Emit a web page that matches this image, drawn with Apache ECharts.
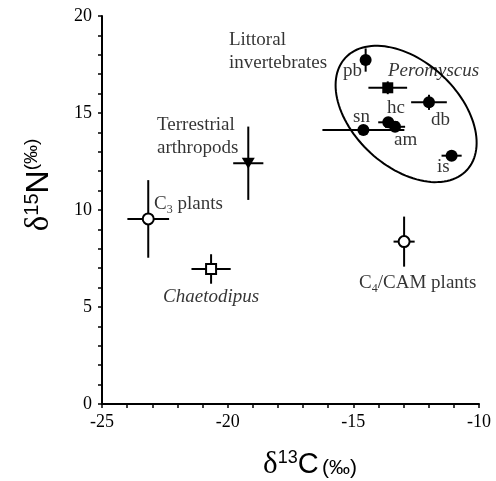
<!DOCTYPE html>
<html>
<head>
<meta charset="utf-8">
<script src="https://cdn.jsdelivr.net/npm/echarts@6/dist/echarts.min.js"></script>
<style>
html,body{margin:0;padding:0;background:#fff;}
#chart{width:496px;height:481px;}
</style>
</head>
<body>
<div id="chart"></div>
<script>
// ---- data ----
const groups = ['pb', 'Peromyscus', 'hc', 'am', 'sn', 'db', 'is', 'Terrestrial arthropods', 'C3 plants', 'Chaetodipus', 'C4/CAM plants'];
const d13C   = [-14.51, -13.63, -13.61, -13.34, -14.60, -11.99, -11.09, -19.18, -23.16, -20.66, -12.98];
const d15N   = [17.73, 16.30, 14.52, 14.29, 14.12, 15.55, 12.80, 12.41, 9.54, 6.96, 8.37];
const errC   = [0.15, 0.77, 0.40, 0.40, 1.63, 0.71, 0.40, 0.60, 0.83, 0.78, 0.42];
const errN   = [0.60, 0.33, 0.20, 0.15, 0.10, 0.39, 0.10, 1.89, 2.00, 0.76, 1.29];

const xTicks = [-25, -20, -15, -10];
const yTicks = [0, 5, 10, 15, 20];

// annotation texts and their anchors (data coordinates: left edge, vertical middle)
const noteTexts = ['Littoral\ninvertebrates', 'Peromyscus', 'pb', 'sn', 'hc', 'am', 'db', 'is',
                   'Terrestrial\narthropods', 'C{s|3} plants', 'Chaetodipus', 'C{s|4}/CAM plants'];
const noteX = [-19.95, -13.62, -15.41, -15.01, -13.66, -13.38, -11.91, -11.67, -22.81, -22.93, -22.57, -14.77];
const noteY = [18.15, 17.16, 17.16, 14.79, 15.26, 13.61, 14.64, 12.22, 13.79, 10.31, 5.52, 6.24];

// ellipse around littoral group (data units)
const ellipseCenter = [-12.90, 14.95];
const ellipseAxisA = [2.42, -2.89];
const ellipseAxisB = [-1.42, -2.00];

// ---- styles ----
const markerStyle = {
  'pb': 'fc', 'Peromyscus': 'fs', 'hc': 'fc', 'am': 'fc', 'sn': 'fc', 'db': 'fc', 'is': 'fc',
  'Terrestrial arthropods': 'ft', 'C3 plants': 'oc', 'Chaetodipus': 'os', 'C4/CAM plants': 'oc'
};
const italicNotes = ['Peromyscus', 'Chaetodipus'];

function markerItem(i) {
  const t = markerStyle[groups[i]];
  const item = { value: [d13C[i], d15N[i]] };
  if (t === 'fc') { item.symbol = 'circle'; item.symbolSize = 12; item.itemStyle = { color: '#000', opacity: 1 }; }
  if (t === 'fs') { item.symbol = 'rect'; item.symbolSize = 11; item.itemStyle = { color: '#000', opacity: 1 }; }
  if (t === 'ft') { item.symbol = 'triangle'; item.symbolSize = [13, 11]; item.symbolRotate = 180; item.itemStyle = { color: '#000', opacity: 1 }; }
  if (t === 'oc') { item.symbol = 'circle'; item.symbolSize = 11; item.itemStyle = { color: '#fff', borderColor: '#000', borderWidth: 2, opacity: 1 }; }
  if (t === 'os') { item.symbol = 'rect'; item.symbolSize = 10; item.itemStyle = { color: '#fff', borderColor: '#000', borderWidth: 2, opacity: 1 }; }
  return item;
}

const serif = 'Liberation Serif, Times New Roman, serif';
const sans = 'Liberation Sans, Arial, sans-serif';

const chart = echarts.init(document.getElementById('chart'), null, { renderer: 'canvas' });

const option = {
  backgroundColor: '#fff',
  animation: false,
  grid: { left: 102, right: 17, top: 16, bottom: 77 },
  xAxis: {
    type: 'value', min: xTicks[0], max: xTicks[xTicks.length - 1], interval: 5,
    axisLine: { show: true, lineStyle: { color: '#000', width: 2 } },
    axisTick: { show: true, length: 4, lineStyle: { color: '#000', width: 1.5 } },
    minorTick: { show: true, splitNumber: 5, length: 4, lineStyle: { color: '#000', width: 1.5 } },
    splitLine: { show: false },
    axisLabel: { color: '#000', fontFamily: serif, fontSize: 18, margin: 9 }
  },
  yAxis: {
    type: 'value', min: yTicks[0], max: yTicks[yTicks.length - 1], interval: 5,
    axisLine: { show: true, lineStyle: { color: '#000', width: 2 } },
    axisTick: { show: true, length: 4, lineStyle: { color: '#000', width: 1.5 } },
    minorTick: { show: true, splitNumber: 5, length: 4, lineStyle: { color: '#000', width: 1.5 } },
    splitLine: { show: false },
    axisLabel: { color: '#000', fontFamily: serif, fontSize: 18, margin: 10 }
  },
  graphic: [
    {
      type: 'text', x: 310, y: 465,
      style: {
        text: '{d|δ}{sup|13}{b|C} {p|(‰)}',
        align: 'center', verticalAlign: 'middle', fill: '#000',
        rich: {
          d: { fontFamily: serif, fontSize: 31, fill: '#000' },
          sup: { fontFamily: sans, fontSize: 18, verticalAlign: 'top', fill: '#000' },
          b: { fontFamily: sans, fontSize: 29, fill: '#000' },
          p: { fontFamily: sans, fontSize: 21, fill: '#000', padding: [6, 0, 0, 0] }
        }
      }
    },
    {
      type: 'text', x: 39, y: 185, rotation: Math.PI / 2,
      style: {
        text: '{d|δ}{sup|15}{b|N}{p|(‰)}',
        align: 'center', verticalAlign: 'middle', fill: '#000',
        rich: {
          d: { fontFamily: serif, fontSize: 33, fill: '#000' },
          sup: { fontFamily: sans, fontSize: 20, verticalAlign: 'top', fill: '#000' },
          b: { fontFamily: sans, fontSize: 32, fill: '#000' },
          p: { fontFamily: sans, fontSize: 19, verticalAlign: 'top', fill: '#000' }
        }
      }
    }
  ],
  series: [
    {
      type: 'custom',
      name: 'ellipse',
      silent: true,
      z: 1,
      data: [[ellipseCenter[0], ellipseCenter[1]]],
      renderItem: function (params, api) {
        const pts = [];
        for (let k = 0; k <= 120; k++) {
          const t = k / 120 * Math.PI * 2;
          const x = ellipseCenter[0] + Math.cos(t) * ellipseAxisA[0] + Math.sin(t) * ellipseAxisB[0];
          const y = ellipseCenter[1] + Math.cos(t) * ellipseAxisA[1] + Math.sin(t) * ellipseAxisB[1];
          pts.push(api.coord([x, y]));
        }
        return { type: 'polyline', shape: { points: pts }, style: { stroke: '#000', lineWidth: 2, fill: null } };
      }
    },
    {
      type: 'custom',
      name: 'errorbars',
      silent: true,
      z: 2,
      data: groups.map((g, i) => [d13C[i], d15N[i], errC[i], errN[i]]),
      renderItem: function (params, api) {
        const x = api.value(0), y = api.value(1), ex = api.value(2), ey = api.value(3);
        const l = api.coord([x - ex, y]), r = api.coord([x + ex, y]);
        const b = api.coord([x, y - ey]), t = api.coord([x, y + ey]);
        const st = { stroke: '#000', lineWidth: 2 };
        return {
          type: 'group',
          children: [
            { type: 'line', shape: { x1: l[0], y1: l[1], x2: r[0], y2: r[1] }, style: st },
            { type: 'line', shape: { x1: b[0], y1: b[1], x2: t[0], y2: t[1] }, style: st }
          ]
        };
      }
    },
    {
      type: 'scatter',
      name: 'markers',
      z: 3,
      itemStyle: { opacity: 1 },
      data: groups.map((g, i) => markerItem(i))
    },
    {
      type: 'scatter',
      name: 'notes',
      z: 4,
      symbol: 'circle',
      symbolSize: 0,
      silent: true,
      data: noteTexts.map((txt, i) => {
        const item = { value: [noteX[i], noteY[i]], name: txt };
        if (italicNotes.indexOf(txt) >= 0) item.label = { fontStyle: 'italic' };
        return item;
      }),
      label: {
        show: true,
        position: 'right',
        distance: 0,
        formatter: function (p) { return p.name; },
        color: '#000',
        fontFamily: serif,
        fontSize: 19,
        lineHeight: 23,
        align: 'left',
        verticalAlign: 'middle',
        rich: {
          s: { fontFamily: serif, fontSize: 12, verticalAlign: 'bottom', color: '#000', lineHeight: 19 }
        }
      }
    }
  ]
};
chart.setOption(option);
</script>
</body>
</html>
